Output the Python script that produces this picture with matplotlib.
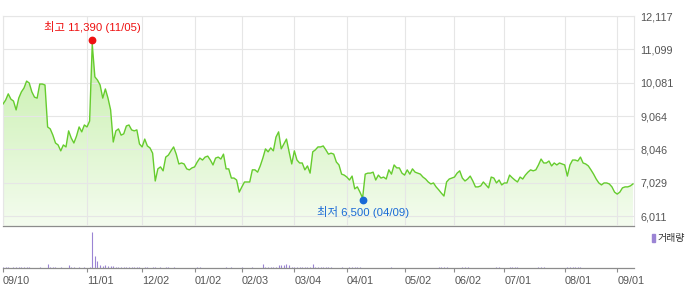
import numpy as np
import matplotlib
matplotlib.use("Agg")
import matplotlib.pyplot as plt
from matplotlib.colors import LinearSegmentedColormap
from matplotlib.patches import Rectangle

# daily closes, 2024-09-10 .. 2025-09-09 (trading days)
close = [
    9430, 9550, 9740, 9580, 9520, 9250, 9610, 9800, 9920, 10130,
    10070, 9800, 9640, 9610, 10040, 10040, 10010, 8730, 8670, 8480,
    8240, 8180, 8000, 8180, 8120, 8610, 8390, 8240, 8450, 8730,
    8580, 8790, 8730, 8910, 11260, 10260, 10160, 10010, 9610, 9890,
    9610, 9250, 8270, 8610, 8670, 8480, 8520, 8760, 8790, 8640,
    8610, 8640, 8210, 8120, 8360, 8150, 8090, 7930, 7080, 7450,
    7510, 7390, 7810, 7870, 8000, 8120, 7900, 7600, 7630, 7600,
    7450, 7420, 7480, 7510, 7660, 7780, 7720, 7810, 7840, 7720,
    7570, 7780, 7810, 7750, 7900, 7450, 7450, 7170, 7170, 7110,
    6740, 6900, 7050, 7050, 7050, 7420, 7420, 7350, 7540, 7780,
    8060, 7970, 8090, 8000, 8420, 8580, 8060, 8210, 8360, 7970,
    7600, 8000, 7720, 7630, 7630, 7420, 7540, 7320, 7970, 8030,
    8120, 8120, 8150, 8030, 7900, 7930, 7900, 7660, 7570, 7290,
    7260, 7200, 7110, 7230, 6840, 6900, 6740, 6560, 7290, 7320,
    7320, 7350, 7110, 7260, 7170, 7200, 7140, 7420, 7290, 7570,
    7480, 7480, 7320, 7260, 7420, 7290, 7450, 7350, 7320, 7290,
    7200, 7140, 7050, 6990, 7020, 6900, 6810, 6710, 6620, 7050,
    7140, 7170, 7200, 7320, 7390, 7170, 7080, 7140, 7230, 7080,
    6900, 6900, 6930, 7050, 6960, 6870, 7200, 7170, 7020, 7110,
    6960, 7020, 7020, 7260, 7180, 7110, 7050, 7200, 7140, 7260,
    7350, 7420, 7390, 7420, 7570, 7750, 7630, 7630, 7690, 7540,
    7630, 7570, 7630, 7600, 7570, 7230, 7570, 7720, 7720, 7690,
    7810, 7630, 7600, 7540, 7420, 7290, 7140, 7020, 6960, 7020,
    7020, 6990, 6900, 6740, 6680, 6740, 6870, 6900, 6900, 6930,
    6990,
]

volume = [
    100, 100, 100, 40, 100, 100, 100, 100, 100, 100, 100, 40,
    40, 40, 100, 40, 40, 400,
    100, 100, 100, 40, 100, 40, 40, 300, 100, 100, 40, 100, 40, 100, 40, 100,
    3600, 1200, 700, 350, 250, 300, 200, 200, 200,
    100, 100, 100, 100, 100, 100, 100, 100, 100, 100,
    40, 100, 100, 40, 100, 100, 40, 100, 40, 100, 100, 40, 100,
    40, 40, 40, 40, 40, 40, 40, 40,
    100, 100,
    40, 40, 40, 40, 40, 40, 40, 40, 40,
    100, 40, 100, 40, 40, 40, 100, 40, 40, 40, 100, 40, 40, 40,
    400, 100, 100, 100, 100, 100, 300, 300, 300, 400, 300,
    100, 100, 100, 100, 100, 100, 100, 100, 400,
    100, 100, 100, 100, 100, 100, 100, 40, 40, 40, 100, 40, 40,
    100, 100, 100, 100, 100,
    40, 40, 40, 40, 40, 40, 40, 40, 40, 40, 40, 100,
    40, 40, 40, 40, 40, 40, 40, 40, 40, 40, 40, 40, 40, 40, 40, 40, 40,
    100, 100, 100, 100, 40, 40, 40, 40, 40, 100, 100, 100,
    40, 40, 40, 40, 40, 40, 40, 40, 40, 40, 100, 100, 40, 40, 40,
    100, 100, 100, 100, 40, 40, 40, 40, 40, 40, 40, 150, 150, 150,
    40, 40, 40, 40, 40, 40, 40, 40, 100, 100, 100, 100, 100, 100,
    40, 40, 40, 40, 40, 40, 40, 40, 40, 40,
    40, 40, 40, 40, 40, 40, 40, 40, 40, 40,
]

tick_pos = [0, 32, 53, 73, 91, 111, 131, 153, 172, 191, 214, 234]
tick_labels = ["09/10", "11/01", "12/02", "01/02", "02/03", "03/04",
               "04/01", "05/02", "06/02", "07/01", "08/01", "09/01"]
price_ticks = [6011, 7029, 8046, 9064, 10081, 11099, 12117]

high_idx, high_val, high_text = 34, 11390, "최고 11,390 (11/05)"
low_idx, low_val, low_text = 137, 6500, "최저 6,500 (04/09)"

plt.rcParams['font.family'] = ['Liberation Sans', 'Noto Sans CJK KR']
FS = 7.8
grid_c = '#e6e6e6'
axis_c = '#8c8c8c'

fig = plt.figure(figsize=(7, 2.89), dpi=100)
ax = fig.add_axes([3 / 700, 63 / 289, 631 / 700, 210 / 289])
axv = fig.add_axes([3 / 700, 21 / 289, 631 / 700, 39 / 289])

days = np.arange(len(close))
y0, y1 = 5706, 12117
x1 = len(close) - 1 + 0.4

# price panel
poly = ax.fill_between(days, close, y0, color='none', lw=0)
cmap = LinearSegmentedColormap.from_list('g', ['#f4fcef', '#bfeda0'])
grad = np.linspace(0, 1, 256).reshape(-1, 1)
im = ax.imshow(grad, extent=[0, x1, y0, y1], origin='lower', aspect='auto',
               cmap=cmap, zorder=1)
im.set_clip_path(poly.get_paths()[0], transform=ax.transData)
ax.plot(days, close, color='#66cc2e', lw=1.0, zorder=3)

ax.set_xlim(0, x1)
ax.set_ylim(y0, y1)
ax.set_xticks(tick_pos)
ax.set_yticks(price_ticks)
ax.set_yticklabels(["{:,}".format(v) for v in price_ticks])
ax.yaxis.tick_right()
ax.tick_params(axis='x', length=0, labelbottom=False)
ax.tick_params(axis='y', length=0, pad=4.5, labelsize=FS, colors='#555555')
ax.grid(True, color=grid_c, lw=0.8, zorder=2)
ax.set_axisbelow(False)
for s in ['top', 'left', 'right']:
    ax.spines[s].set_color(grid_c)
    ax.spines[s].set_linewidth(0.8)
ax.spines['bottom'].set_color(axis_c)
ax.spines['bottom'].set_linewidth(0.9)

# high / low markers
ax.plot(high_idx, high_val, 'o', color='#ee1111', ms=4.6, zorder=4)
ax.annotate(high_text, (high_idx, high_val), xytext=(0, 9),
            textcoords='offset points', ha='center', va='center',
            fontsize=8.2, color='#ee1111')
ax.plot(low_idx, low_val, 'o', color='#1a6ad6', ms=4.6, zorder=4)
ax.annotate(low_text, (low_idx, low_val), xytext=(0, -8.5),
            textcoords='offset points', ha='center', va='center',
            fontsize=8.2, color='#1a6ad6')

# volume panel
axv.vlines(days, 0, volume, color='#9b84d4', lw=0.8)
axv.set_xlim(0, x1)
axv.set_ylim(0, 3900)
axv.set_yticks([])
axv.set_xticks(tick_pos)
axv.set_xticklabels(tick_labels, ha='left')
axv.tick_params(axis='x', length=3, width=0.8, color=axis_c, pad=3,
                labelsize=FS, labelcolor='#555555')
for s in ['top', 'left', 'right']:
    axv.spines[s].set_visible(False)
axv.spines['bottom'].set_color(axis_c)
axv.spines['bottom'].set_linewidth(0.9)

fig.patches.append(Rectangle((652 / 700, 1 - 242 / 289), 3 / 700, 8 / 289,
                             transform=fig.transFigure, color='#9b84d4'))
fig.text(658 / 700, 1 - 238 / 289, "거래량", fontsize=7.2, color='#333333',
         va='center', ha='left')

fig.savefig("out.png", dpi=100)
